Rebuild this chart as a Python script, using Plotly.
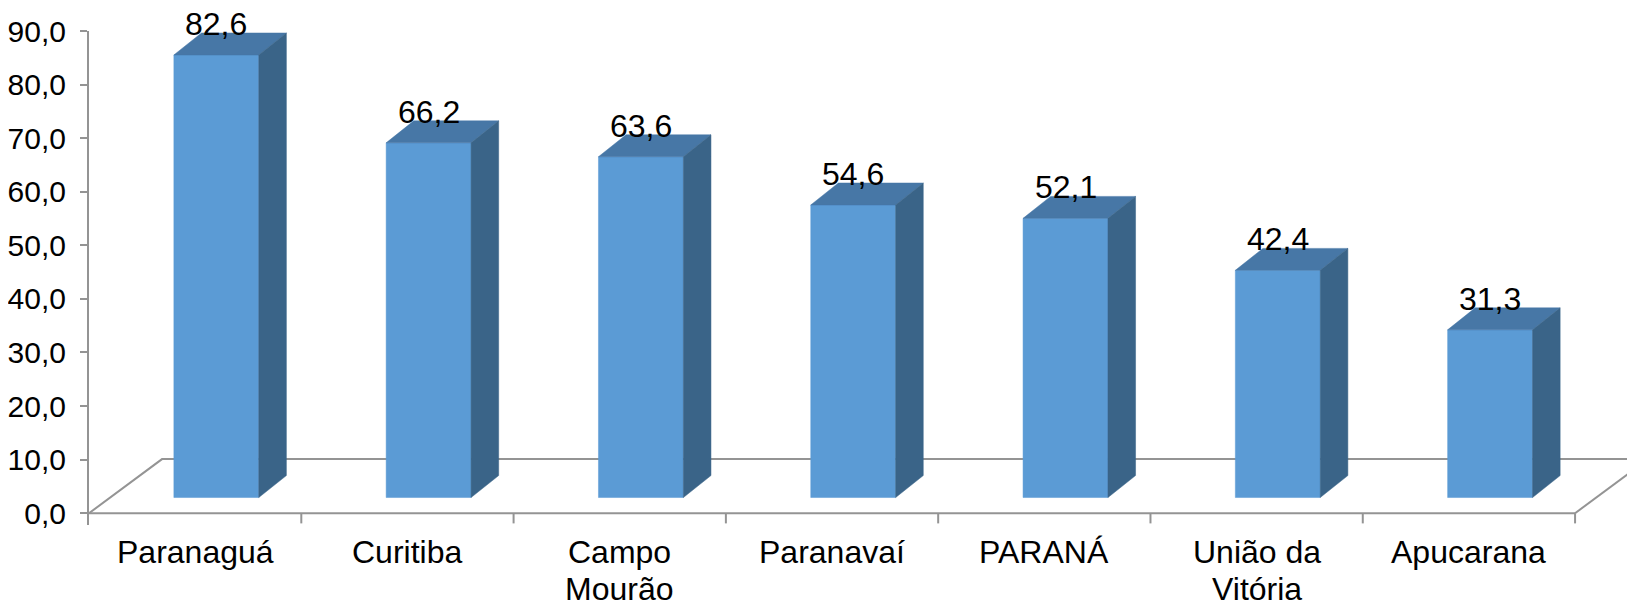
import plotly.graph_objects as go

# ---- data ----
categories = ["Paranaguá", "Curitiba", "Campo<br>Mourão", "Paranavaí", "PARANÁ",
              "União da<br>Vitória", "Apucarana"]
values = [82.6, 66.2, 63.6, 54.6, 52.1, 42.4, 31.3]
y_tick_values = [0, 10, 20, 30, 40, 50, 60, 70, 80, 90]
y_tick_labels = ["0,0", "10,0", "20,0", "30,0", "40,0", "50,0", "60,0", "70,0", "80,0", "90,0"]

# ---- 3D look parameters (category units / value units) ----
FLOOR_DX = 0.344   # floor depth, horizontal
FLOOR_DY = 10.1    # floor depth, vertical
FRONT = 0.29       # depth fraction of bar front face
BAR_W = 0.40
SIDE_DX = 0.13
SIDE_DY = 4.1

FRONT_COL = "#5B9BD5"
TOP_COL = "#4777A6"
SIDE_COL = "#3A6488"
AXIS_COL = "#949494"
FONT = "Liberation Sans, Arial, sans-serif"
LINE_STEP = 37  # px between lines of a two-line category label

n = len(categories)
y0 = FRONT * FLOOR_DY
xoff = FRONT * FLOOR_DX

fig = go.Figure()

# floor outline
fx = [0, n, None, 0, FLOOR_DX, n + FLOOR_DX, None, n, n + FLOOR_DX]
fy = [0, 0, None, 0, FLOOR_DY, FLOOR_DY, None, 0, FLOOR_DY]
fig.add_trace(go.Scatter(x=fx, y=fy, mode="lines", line=dict(color=AXIS_COL, width=2),
                         hoverinfo="skip"))
# category boundary ticks
tx, ty = [], []
for k in range(1, n + 1):
    tx += [k, k, None]
    ty += [0, -1.9, None]
fig.add_trace(go.Scatter(x=tx, y=ty, mode="lines", line=dict(color=AXIS_COL, width=2),
                         hoverinfo="skip"))

frx, fry, tpx, tpy, sdx, sdy = [], [], [], [], [], []
for i, v in enumerate(values):
    xl = i + 0.5 + xoff - BAR_W / 2
    xr = i + 0.5 + xoff + BAR_W / 2
    top = y0 + v
    frx += [xl, xr, xr, xl, xl, None]
    fry += [y0, y0, top, top, y0, None]
    tpx += [xl, xr, xr + SIDE_DX, xl + SIDE_DX, xl, None]
    tpy += [top, top, top + SIDE_DY, top + SIDE_DY, top, None]
    sdx += [xr, xr + SIDE_DX, xr + SIDE_DX, xr, xr, None]
    sdy += [y0, y0 + SIDE_DY, top + SIDE_DY, top, y0, None]

for px, py, col in [(frx, fry, FRONT_COL), (tpx, tpy, TOP_COL), (sdx, sdy, SIDE_COL)]:
    fig.add_trace(go.Scatter(x=px, y=py, mode="lines", fill="toself", fillcolor=col,
                             line=dict(color=col, width=0.5), hoverinfo="skip"))

annotations = []
for i, v in enumerate(values):
    annotations.append(dict(
        x=i + 0.5 + xoff, y=y0 + v + SIDE_DY, xref="x", yref="y",
        text=f"{v:.1f}".replace(".", ","), showarrow=False,
        yanchor="middle", yshift=9,
        font=dict(family=FONT, size=32, color="#000000")))
for i, c in enumerate(categories):
    for j, line in enumerate(c.split("<br>")):
        annotations.append(dict(
            x=i + 0.5, y=0, xref="x", yref="y", text=line, showarrow=False,
            yanchor="top", yshift=-19 - j * LINE_STEP,
            font=dict(family=FONT, size=32, color="#000000")))

fig.update_layout(
    template="none",
    width=1635, height=603,
    margin=dict(l=81, r=0, t=23, b=86, pad=0),
    paper_bgcolor="white", plot_bgcolor="white",
    showlegend=False,
    annotations=annotations,
    xaxis=dict(range=[0, 7.32], showgrid=False, zeroline=False, showline=False,
               showticklabels=False, ticks="", automargin=False),
    yaxis=dict(range=[-2.2, 90], tickvals=y_tick_values, ticktext=y_tick_labels,
               showgrid=False, zeroline=False, showline=True, linecolor=AXIS_COL,
               linewidth=2, ticks="outside", ticklen=7, tickcolor=AXIS_COL, tickwidth=2,
               ticklabelstandoff=8, automargin=False,
               tickfont=dict(family=FONT, size=30, color="#000000")),
)

fig.write_html("out.html")
